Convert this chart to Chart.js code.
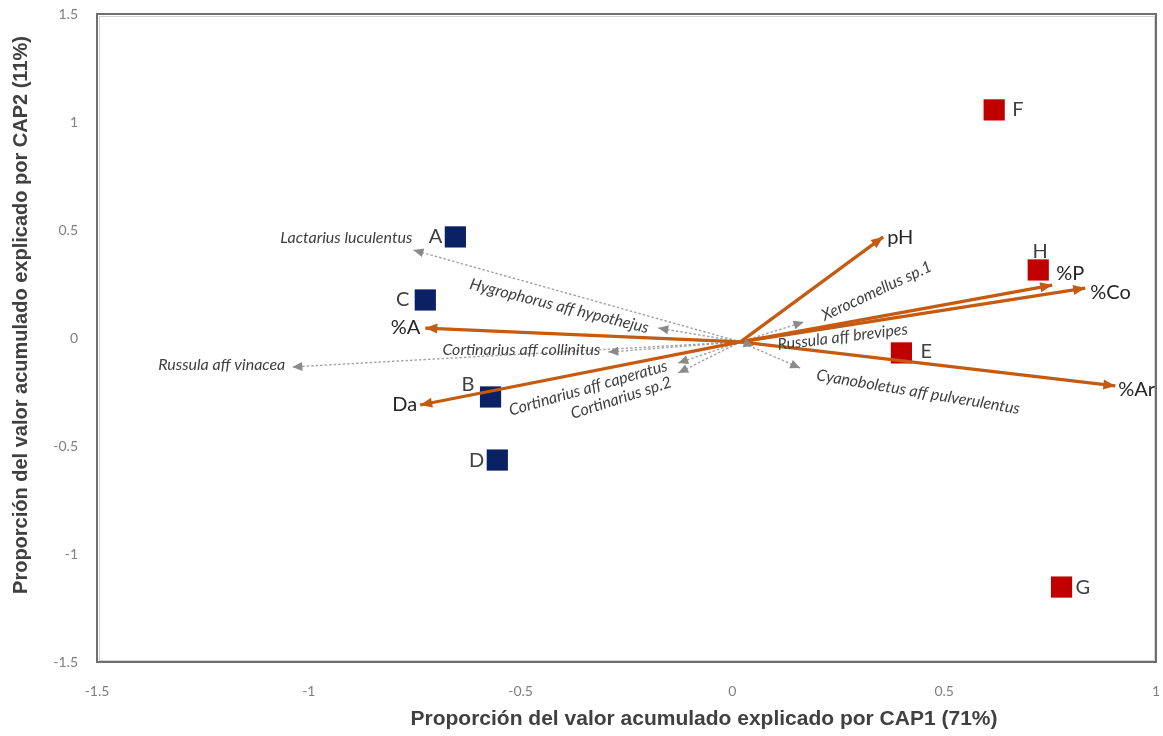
<!DOCTYPE html>
<html>
<head>
<meta charset="utf-8">
<script src="https://cdn.jsdelivr.net/npm/chart.js@4.4.1/dist/chart.umd.min.js"></script>
<style>
  html, body { margin: 0; padding: 0; background: #ffffff; }
  #wrap { width: 1163px; height: 736px; }
</style>
</head>
<body>
<div id="wrap"><canvas id="cap" width="1163" height="736"></canvas></div>
<script>
// ---- Site scores (CAP1, CAP2) ----
const sitesBlue = ['A', 'B', 'C', 'D'];
const sitesBlueX = [-0.654, -0.571, -0.725, -0.555];
const sitesBlueY = [0.468, -0.273, 0.176, -0.565];

const sitesRed = ['E', 'F', 'G', 'H'];
const sitesRedX = [0.399, 0.618, 0.777, 0.722];
const sitesRedY = [-0.069, 1.056, -1.153, 0.315];

// ---- Environmental vectors ----
const envNames = ['pH', '%P', '%Co', '%Ar', '%A', 'Da'];
const envX = [0.356, 0.755, 0.833, 0.904, -0.725, -0.737];
const envY = [0.468, 0.245, 0.231, -0.222, 0.046, -0.310];

// ---- Species vectors ----
const sppNames = ['Lactarius luculentus', 'Hygrophorus aff hypothejus', 'Russula aff vinacea',
  'Cortinarius aff collinitus', 'Cortinarius aff caperatus', 'Cortinarius sp.2',
  'Xerocomellus sp.1', 'Russula aff brevipes', 'Cyanoboletus aff pulverulentus'];
const sppX = [-0.753, -0.175, -1.039, -0.293, -0.128, -0.128, 0.168, 0.050, 0.160];
const sppY = [0.407, 0.046, -0.134, -0.065, -0.116, -0.162, 0.074, -0.037, -0.139];

// common start point of all vectors
const vecOrigin = [0.019, -0.018];

// axis ticks
const xTicks = [-1.5, -1, -0.5, 0, 0.5, 1];
const yTicks = [-1.5, -1, -0.5, 0, 0.5, 1, 1.5];

const xTitle = 'Proporción del valor acumulado explicado por CAP1 (71%)';
const yTitle = 'Proporción del valor acumulado explicado por CAP2 (11%)';

// ---- label placement (pixel offsets from the mark, alignment, rotation in degrees) ----
const sitePlace = {
  A: [-13, 0, 'right'], B: [-16, -12, 'right'], C: [-16, 0, 'right'], D: [-13, 1, 'right'],
  E: [19, -1, 'left'], F: [18, 0, 'left'], G: [14, 0, 'left'], H: [2, -18, 'center']
};
const envPlace = [[4, 1, 'left'], [4, -12, 'left'], [5, 4, 'left'], [3, 4, 'left'], [-5, -1, 'right'], [-3, 0, 'right']];
const sppPlace = [
  [-1, -12, 'right', 0], [-99, -22, 'center', 14], [-7, -2, 'right', 0], [-8, -2, 'right', 0],
  [-90, 25, 'center', -16], [-57, 25, 'center', -18], [73, -31, 'center', -25],
  [89, -9, 'center', -7], [118, 24, 'center', 9.5]
];

const ORANGE = '#c55a11';
const GREY_LINE = '#a3a3a3';
const GREY_HEAD = '#8a8a8a';

function toPoints(xs, ys) { return xs.map((x, i) => ({ x: x, y: ys[i] })); }

const datasets = [];
envNames.forEach((n, i) => {
  datasets.push({
    label: n, kind: 'env', type: 'line',
    data: [{ x: vecOrigin[0], y: vecOrigin[1] }, { x: envX[i], y: envY[i] }],
    borderColor: ORANGE, borderWidth: 3.2, pointRadius: 0, fill: false, showLine: true
  });
});
sppNames.forEach((n, i) => {
  datasets.push({
    label: n, kind: 'spp', type: 'line',
    data: [{ x: vecOrigin[0], y: vecOrigin[1] }, { x: sppX[i], y: sppY[i] }],
    borderColor: GREY_LINE, borderWidth: 1.4, borderDash: [2.5, 2], pointRadius: 0, fill: false, showLine: true
  });
});
datasets.push({
  label: 'blue', kind: 'site', names: sitesBlue, data: toPoints(sitesBlueX, sitesBlueY),
  pointStyle: 'rect', pointRadius: 15, backgroundColor: '#0a2163', borderColor: '#0a2163', borderWidth: 0
});
datasets.push({
  label: 'red', kind: 'site', names: sitesRed, data: toPoints(sitesRedX, sitesRedY),
  pointStyle: 'rect', pointRadius: 15, backgroundColor: '#c00000', borderColor: '#c00000', borderWidth: 0
});

function drawText(ctx, txt, x, y, font, color, align, rot) {
  ctx.save();
  ctx.translate(x, y);
  if (rot) ctx.rotate(rot * Math.PI / 180);
  ctx.font = font;
  ctx.fillStyle = color;
  ctx.textAlign = align;
  ctx.textBaseline = 'middle';
  ctx.fillText(txt, 0, 0);
  ctx.restore();
}

const biplotDecor = {
  id: 'biplotDecor',
  beforeDatasetsDraw(chart) {
    const { ctx, chartArea: a } = chart;
    // plot frame
    ctx.save();
    ctx.strokeStyle = '#d2d2d2';
    ctx.lineWidth = 1;
    ctx.strokeRect(a.left + 2.5, a.top + 2.5, a.right - a.left - 4, a.bottom - a.top - 4);
    ctx.strokeStyle = '#6f6f6f';
    ctx.lineWidth = 2;
    ctx.strokeRect(a.left, a.top, a.right - a.left, a.bottom - a.top);
    ctx.restore();
  },
  afterDatasetsDraw(chart) {
    const ctx = chart.ctx;
    // arrow heads
    chart.data.datasets.forEach((ds, i) => {
      if (ds.kind !== 'env' && ds.kind !== 'spp') return;
      const pts = chart.getDatasetMeta(i).data;
      const p0 = pts[0], p1 = pts[1];
      const ang = Math.atan2(p1.y - p0.y, p1.x - p0.x);
      const len = ds.kind === 'env' ? 12 : 10;
      const half = ds.kind === 'env' ? 5 : 4.5;
      ctx.save();
      ctx.translate(p1.x, p1.y);
      ctx.rotate(ang);
      ctx.beginPath();
      ctx.moveTo(0, 0);
      ctx.lineTo(-len, -half);
      ctx.lineTo(-len, half);
      ctx.closePath();
      ctx.fillStyle = ds.kind === 'env' ? ORANGE : GREY_HEAD;
      ctx.fill();
      ctx.restore();
    });
  },
  afterDraw(chart) {
    const ctx = chart.ctx;
    const a = chart.chartArea;
    let envIdx = 0, sppIdx = 0;
    chart.data.datasets.forEach((ds, i) => {
      const pts = chart.getDatasetMeta(i).data;
      if (ds.kind === 'env') {
        const p = pts[1], pl = envPlace[envIdx++];
        drawText(ctx, ds.label, p.x + pl[0], p.y + pl[1], '20px Lato', '#262626', pl[2], 0);
      } else if (ds.kind === 'spp') {
        const p = pts[1], pl = sppPlace[sppIdx++];
        drawText(ctx, ds.label, p.x + pl[0], p.y + pl[1], 'italic 16px Lato', '#3f3f3f', pl[2], pl[3]);
      } else if (ds.kind === 'site') {
        ds.names.forEach((n, k) => {
          const p = pts[k], pl = sitePlace[n];
          drawText(ctx, n, p.x + pl[0], p.y + pl[1], '20px Lato', '#404040', pl[2], 0);
        });
      }
    });
    // axis titles
    drawText(ctx, xTitle, a.left + 607, a.bottom + 57, 'bold 21px "Liberation Sans", Arial, sans-serif', '#404040', 'center', 0);
    drawText(ctx, yTitle, 21, a.top + 301, 'bold 20px "Liberation Sans", Arial, sans-serif', '#404040', 'center', -90);
  }
};

new Chart(document.getElementById('cap'), {
  type: 'scatter',
  data: { datasets: datasets },
  options: {
    responsive: false,
    animation: false,
    devicePixelRatio: 1,
    layout: { autoPadding: false, padding: { left: 0, right: 7, top: 14, bottom: 0 } },
    plugins: { legend: { display: false }, tooltip: { enabled: false } },
    scales: {
      x: {
        type: 'linear', min: -1.5, max: 1,
        afterBuildTicks: (s) => { s.ticks = xTicks.map(v => ({ value: v })); },
        afterFit: (s) => { s.height = 74; s.paddingLeft = 0; s.paddingRight = 0; },
        grid: { display: false, drawTicks: true, tickLength: 21 },
        border: { display: false },
        ticks: { color: '#7f7f7f', font: { family: 'Lato', size: 14 }, padding: 0, callback: (v) => String(v) }
      },
      y: {
        type: 'linear', min: -1.5, max: 1.5,
        afterBuildTicks: (s) => { s.ticks = yTicks.map(v => ({ value: v })); },
        afterFit: (s) => { s.width = 97; s.paddingTop = 0; s.paddingBottom = 0; },
        grid: { display: false, drawTicks: false },
        border: { display: false },
        ticks: { color: '#7f7f7f', font: { family: 'Lato', size: 14 }, padding: 19, callback: (v) => String(v) }
      }
    }
  },
  plugins: [biplotDecor]
});
</script>
</body>
</html>
